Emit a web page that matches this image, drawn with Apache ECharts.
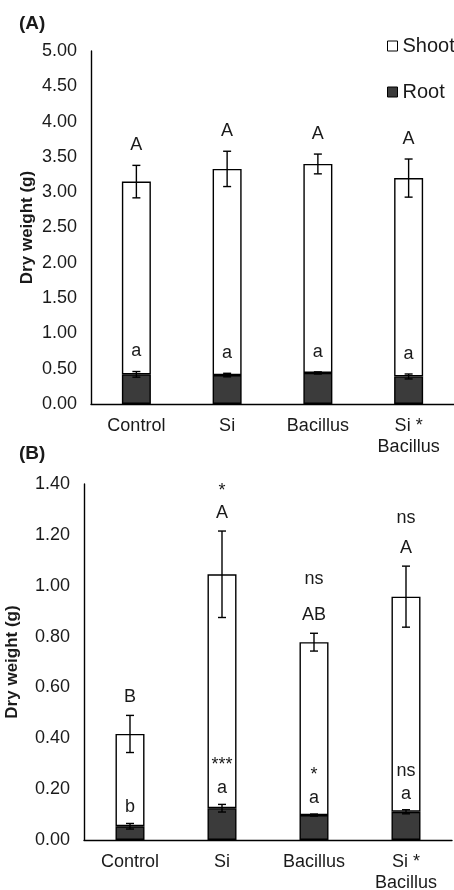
<!DOCTYPE html>
<html>
<head>
<meta charset="utf-8">
<script src="https://cdn.jsdelivr.net/npm/echarts@6/dist/echarts.min.js"></script>
<style>
  html, body { margin: 0; padding: 0; background: #fff; }
  #chart { width: 454px; height: 890px; }
</style>
</head>
<body>
<div id="chart"></div>
<script>
const categories = ['Control', 'Si', 'Bacillus', 'Si *\nBacillus'];

// panel (A)
const yTicksA = [0, 0.5, 1, 1.5, 2, 2.5, 3, 3.5, 4, 4.5, 5];
const rootA = [0.42, 0.41, 0.44, 0.39];
const rootErrA = [0.04, 0.025, 0.015, 0.035];
const shootA = [2.73, 2.92, 2.96, 2.81]; // stacked on root
const shootErrA = [0.23, 0.25, 0.14, 0.27];
const shootLetterA = ['A', 'A', 'A', 'A'];
const rootLetterA = ['a', 'a', 'a', 'a'];

// panel (B)
const yTicksB = [0, 0.2, 0.4, 0.6, 0.8, 1, 1.2, 1.4];
const rootB = [0.054, 0.125, 0.098, 0.111];
const rootErrB = [0.011, 0.015, 0.004, 0.008];
const shootB = [0.363, 0.92, 0.68, 0.846];
const shootErrB = [0.073, 0.17, 0.035, 0.12];
const shootLetterB = ['B', 'A', 'AB', 'A'];
const shootSigB = ['', '*', 'ns', 'ns'];
const rootLetterB = ['b', 'a', 'a', 'a'];
const rootSigB = ['', '***', '*', 'ns'];

const FONT = '"Liberation Sans", Arial, sans-serif';
const INK = '#1a1a1a';
const ROOT_FILL = '#3b3b3b';
const FS = 18;

// label offsets in px above the error bar top (layout only)
const sigGapB = [0, 22, 36, 30];

function sum(a, b) { return a.map((v, i) => v + b[i]); }

function text(str, x, y) {
  return {
    type: 'text', x: x, y: y,
    style: {
      text: str, fill: INK, fontSize: FS, fontFamily: FONT,
      align: 'center', verticalAlign: 'middle',
      textAlign: 'center', textVerticalAlign: 'middle'
    }
  };
}

// error bar + annotations drawn at the top of a segment
function errorSeries(idx, tops, errs, letters, letterGap, sigs, sigGaps) {
  return {
    type: 'custom',
    xAxisIndex: idx, yAxisIndex: idx,
    z: 10,
    silent: true,
    data: tops.map((v, i) => [i, v, errs[i]]),
    renderItem: function (params, api) {
      const i = params.dataIndex;
      const x = api.value(0), v = api.value(1), e = api.value(2);
      const hi = api.coord([x, v + e]);
      const lo = api.coord([x, v - e]);
      const cx = hi[0], cap = 4;
      const ls = { stroke: '#000', lineWidth: 1.4 };
      const kids = [
        { type: 'line', shape: { x1: cx, y1: hi[1], x2: cx, y2: lo[1] }, style: ls },
        { type: 'line', shape: { x1: cx - cap, y1: hi[1], x2: cx + cap, y2: hi[1] }, style: ls },
        { type: 'line', shape: { x1: cx - cap, y1: lo[1], x2: cx + cap, y2: lo[1] }, style: ls }
      ];
      const ly = hi[1] - letterGap;
      if (letters && letters[i]) kids.push(text(letters[i], cx, ly));
      if (sigs && sigs[i]) kids.push(text(sigs[i], cx, ly - (sigGaps ? sigGaps[i] : 23)));
      return { type: 'group', children: kids };
    }
  };
}

function xAxis(idx) {
  return {
    type: 'category', gridIndex: idx, data: categories,
    axisLine: { lineStyle: { color: '#000', width: 1.4 } },
    axisTick: { show: false },
    axisLabel: { color: INK, fontSize: FS, fontFamily: FONT, margin: 12, lineHeight: 21, interval: 0 }
  };
}

function yAxis(idx, ticks, gap) {
  return {
    type: 'value', gridIndex: idx,
    min: ticks[0], max: ticks[ticks.length - 1], interval: ticks[1] - ticks[0],
    axisLine: { show: true, lineStyle: { color: '#000', width: 1.4 } },
    axisTick: { show: false },
    splitLine: { show: false },
    axisLabel: { color: INK, fontSize: FS, fontFamily: FONT, margin: 14, formatter: v => v.toFixed(2) },
    name: 'Dry weight (g)', nameLocation: 'middle', nameRotate: 90, nameGap: gap,
    nameMoveOverlap: false,
    nameTextStyle: { color: INK, fontSize: 17, fontWeight: 'bold', fontFamily: FONT }
  };
}

function bars(idx, root, shoot, stack) {
  return [
    {
      name: 'Root', type: 'bar', stack: stack, xAxisIndex: idx, yAxisIndex: idx,
      barWidth: 29, data: root,
      itemStyle: { color: ROOT_FILL, borderColor: '#000', borderWidth: 1.4 }
    },
    {
      name: 'Shoot', type: 'bar', stack: stack, xAxisIndex: idx, yAxisIndex: idx,
      barWidth: 29, data: shoot,
      itemStyle: { color: '#fff', borderColor: '#000', borderWidth: 1.4 }
    }
  ];
}

const chart = echarts.init(document.getElementById('chart'), null, { renderer: 'canvas' });

chart.setOption({
  animation: false,
  backgroundColor: '#fff',
  title: [
    { text: '(A)', left: 14, top: 9, textStyle: { fontSize: 19, fontWeight: 'bold', color: INK, fontFamily: FONT } },
    { text: '(B)', left: 14, top: 439, textStyle: { fontSize: 19, fontWeight: 'bold', color: INK, fontFamily: FONT } }
  ],
  legend: {
    orient: 'vertical', left: 382, top: 31,
    itemWidth: 10, itemHeight: 10, itemGap: 26,
    icon: 'rect',
    selectedMode: false,
    textStyle: { color: INK, fontSize: 20, fontFamily: FONT },
    data: [
      { name: 'Shoot', itemStyle: { color: '#fff', borderColor: '#000', borderWidth: 1 } },
      { name: 'Root', itemStyle: { color: ROOT_FILL, borderColor: '#000', borderWidth: 1 } }
    ]
  },
  grid: [
    { left: 91, right: 0, top: 51, bottom: 486, outerBoundsMode: 'none' },
    { left: 84, right: 2, top: 484, bottom: 50, outerBoundsMode: 'none' }
  ],
  xAxis: [xAxis(0), xAxis(1)],
  yAxis: [yAxis(0, yTicksA, 55), yAxis(1, yTicksB, 63)],
  series: [
    ...bars(0, rootA, shootA, 'A'),
    errorSeries(0, rootA, rootErrA, rootLetterA, 20),
    errorSeries(0, sum(rootA, shootA), shootErrA, shootLetterA, 20),
    ...bars(1, rootB, shootB, 'B'),
    errorSeries(1, rootB, rootErrB, rootLetterB, 16, rootSigB),
    errorSeries(1, sum(rootB, shootB), shootErrB, shootLetterB, 18.5, shootSigB, sigGapB)
  ]
});
</script>
</body>
</html>
